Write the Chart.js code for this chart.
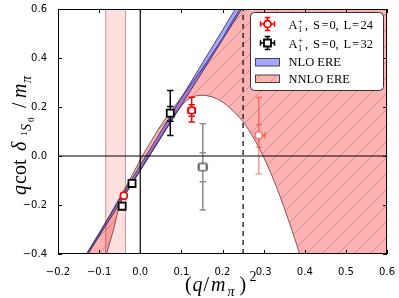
<!DOCTYPE html>
<html>
<head>
<meta charset="utf-8">
<script src="https://cdn.jsdelivr.net/npm/chart.js@4.4.0/dist/chart.umd.min.js"></script>
<style>
  html, body { margin: 0; padding: 0; background: #fff; }
</style>
</head>
<body>
<canvas id="myChart" width="399" height="298"></canvas>
<script>
// tick labels
const x_ticks = [-0.2, -0.1, 0.0, 0.1, 0.2, 0.3, 0.4, 0.5, 0.6];
const y_ticks = [-0.4, -0.2, 0.0, 0.2, 0.4, 0.6];

// NLO ERE band (two edges, straight in q^2)
const nlo_x  = [-0.2, 0.0, 0.3];
const nlo_hi = [-0.590, -0.038, 0.790];
const nlo_lo = [-0.595, -0.060, 0.742];

// NNLO ERE band (upper / lower edge)
const nnlo_x  = [-0.20, -0.14, -0.10, -0.082, -0.065, -0.05, -0.02, 0.00, 0.02, 0.05, 0.08, 0.10, 0.12, 0.135, 0.15, 0.18, 0.20, 0.22, 0.25, 0.28, 0.30, 0.32, 0.34, 0.36, 0.38, 0.40, 0.45, 0.60];
const nnlo_hi = [-0.60, -0.43, -0.32, -0.265, -0.215, -0.17, -0.08, -0.015, 0.042, 0.125, 0.195, 0.24, 0.285, 0.32, 0.355, 0.43, 0.48, 0.54, 0.62, 0.70, 0.75, 0.80, 0.85, 0.90, 0.95, 1.00, 1.13, 1.50];
const nnlo_lo = [-1.20, -0.80, -0.52, -0.40, -0.30, -0.20, -0.11, -0.057, -0.003, 0.078, 0.158, 0.205, 0.235, 0.245, 0.248, 0.238, 0.22, 0.193, 0.14, 0.06, -0.005, -0.08, -0.165, -0.26, -0.36, -0.47, -0.80, -2.00];

// light shaded window and dashed cut
const window_x = [-0.084, -0.036];
const cut_x = 0.25;

// A1+ , S=0, L=24  (red circles)
const l24_x   = [-0.040, 0.125];
const l24_y   = [-0.162, 0.186];
const l24_up  = [0.012, 0.054];   // total error
const l24_dn  = [0.012, 0.047];
const l24_sup = [0.006, 0.023];   // stat error
const l24_sdn = [0.006, 0.024];
const l24_xl  = [0.004, 0.009];
const l24_xr  = [0.004, 0.009];

// A1+ , S=0, L=32  (black squares)
const l32_x   = [-0.044, -0.020, 0.073];
const l32_y   = [-0.205, -0.112, 0.175];
const l32_up  = [0.010, 0.010, 0.092];
const l32_dn  = [0.010, 0.010, 0.091];
const l32_sup = [0.006, 0.006, 0.027];
const l32_sdn = [0.006, 0.006, 0.033];
const l32_xl  = [0.004, 0.004, 0.006];
const l32_xr  = [0.004, 0.004, 0.006];

// faded points (not used in fit)
const l24f_x   = [0.288];
const l24f_y   = [0.085];
const l24f_up  = [0.154];
const l24f_dn  = [0.157];
const l24f_sup = [0.043];
const l24f_sdn = [0.049];
const l24f_xl  = [0.008];
const l24f_xr  = [0.015];

const l32f_x   = [0.152];
const l32f_y   = [-0.045];
const l32f_up  = [0.177];
const l32f_dn  = [0.175];
const l32f_sup = [0.058];
const l32f_sdn = [0.060];
const l32f_xl  = [0.011];
const l32f_xr  = [0.011];

const SERIF = "'Liberation Serif', 'DejaVu Serif', serif";

function pts(xs, ys) {
  return xs.map((x, i) => ({ x: x, y: ys[i] }));
}

function fmt(v) {
  return (v < -1e-9 ? '\u2212' : '') + Math.abs(v).toFixed(1);
}

// pink fill with grey diagonal hatch
function hatch() {
  const c = document.createElement('canvas');
  c.width = 16; c.height = 16;
  const g = c.getContext('2d');
  g.fillStyle = 'rgba(255,0,0,0.3)';
  g.fillRect(0, 0, 16, 16);
  g.strokeStyle = 'rgba(120,120,120,0.6)';
  g.lineWidth = 0.8;
  g.beginPath();
  for (let k = -16; k <= 16; k += 16) {
    g.moveTo(k, 16);
    g.lineTo(k + 16, 0);
  }
  g.stroke();
  return g.createPattern(c, 'repeat');
}
const nnloFill = hatch();

function pointSet(xs, ys, err, style, color, radius) {
  return {
    data: pts(xs, ys), showLine: false, err: err,
    pointStyle: style, pointRadius: radius, pointHoverRadius: radius,
    pointBorderColor: color, pointBackgroundColor: '#fff', pointBorderWidth: 1.8,
    borderColor: color, backgroundColor: '#fff'
  };
}

function refLine(data, dash) {
  return {
    data: data, showLine: true, borderColor: '#000', borderWidth: 1.2,
    borderDash: dash || [], pointRadius: 0, fill: false
  };
}

// error bars with caps at total and stat ends
function drawErr(chart, ds) {
  const ctx = chart.ctx, xs = chart.scales.x, ys = chart.scales.y, e = ds.err;
  const cap = 3.2;
  ctx.save();
  ctx.strokeStyle = e.color;
  ctx.lineWidth = 1.5;
  for (let i = 0; i < e.x.length; i++) {
    const px = xs.getPixelForValue(e.x[i]);
    const py = ys.getPixelForValue(e.y[i]);
    const yt = ys.getPixelForValue(e.y[i] + e.up[i]);
    const yb = ys.getPixelForValue(e.y[i] - e.dn[i]);
    const st = ys.getPixelForValue(e.y[i] + e.sup[i]);
    const sb = ys.getPixelForValue(e.y[i] - e.sdn[i]);
    const xl = xs.getPixelForValue(e.x[i] - e.xl[i]);
    const xr = xs.getPixelForValue(e.x[i] + e.xr[i]);
    ctx.beginPath();
    ctx.moveTo(px, yt); ctx.lineTo(px, yb);
    [yt, yb, st, sb].forEach(function (yy) {
      ctx.moveTo(px - cap, yy); ctx.lineTo(px + cap, yy);
    });
    ctx.moveTo(xl, py); ctx.lineTo(xr, py);
    ctx.moveTo(xl, py - cap); ctx.lineTo(xl, py + cap);
    ctx.moveTo(xr, py - cap); ctx.lineTo(xr, py + cap);
    ctx.stroke();
  }
  ctx.restore();
}

function t(ctx, s, x, y, font) {
  ctx.font = font;
  ctx.fillText(s, x, y);
}

function legendMarker(ctx, x, y, style, color) {
  ctx.save();
  ctx.strokeStyle = color;
  ctx.lineWidth = 1.5;
  ctx.beginPath();
  ctx.moveTo(x, y - 6.5); ctx.lineTo(x, y + 6.5);
  ctx.moveTo(x - 2.8, y - 6.5); ctx.lineTo(x + 2.8, y - 6.5);
  ctx.moveTo(x - 2.8, y + 6.5); ctx.lineTo(x + 2.8, y + 6.5);
  ctx.moveTo(x - 7, y); ctx.lineTo(x + 7, y);
  ctx.moveTo(x - 7, y - 2.8); ctx.lineTo(x - 7, y + 2.8);
  ctx.moveTo(x + 7, y - 2.8); ctx.lineTo(x + 7, y + 2.8);
  ctx.stroke();
  ctx.fillStyle = '#fff';
  ctx.lineWidth = 1.8;
  ctx.beginPath();
  if (style === 'circle') ctx.arc(x, y, 3.5, 0, Math.PI * 2);
  else ctx.rect(x - 3.5, y - 3.5, 7, 7);
  ctx.fill();
  ctx.stroke();
  ctx.restore();
}

function labelA(ctx, x, y, rest) {
  t(ctx, 'A', x, y, '12.5px ' + SERIF);
  t(ctx, '1', x + 9.5, y + 3, '8.5px ' + SERIF);
  t(ctx, '+', x + 9.5, y - 4.5, '8.5px ' + SERIF);
  // ", S =0, L =24"
  t(ctx, ',', x + 16.5, y, '12.5px ' + SERIF);
  t(ctx, 'S', x + 24.5, y, '12.5px ' + SERIF);
  t(ctx, '=', x + 33, y, '12.5px ' + SERIF);
  t(ctx, '0', x + 41, y, '12.5px ' + SERIF);
  t(ctx, ',', x + 47, y, '12.5px ' + SERIF);
  t(ctx, 'L', x + 55, y, '12.5px ' + SERIF);
  t(ctx, '=', x + 63.5, y, '12.5px ' + SERIF);
  t(ctx, rest, x + 72, y, '12.5px ' + SERIF);
}

const extras = {
  id: 'extras',
  beforeDatasetsDraw(chart) {
    const ctx = chart.ctx, a = chart.chartArea, xs = chart.scales.x;
    const x0 = xs.getPixelForValue(window_x[0]);
    const x1 = xs.getPixelForValue(window_x[1]);
    ctx.save();
    ctx.fillStyle = 'rgba(255,0,0,0.12)';
    ctx.fillRect(x0, a.top, x1 - x0, a.bottom - a.top);
    ctx.strokeStyle = 'rgba(140,70,70,0.6)';
    ctx.lineWidth = 0.9;
    ctx.beginPath();
    ctx.moveTo(x0, a.top); ctx.lineTo(x0, a.bottom);
    ctx.moveTo(x1, a.top); ctx.lineTo(x1, a.bottom);
    ctx.stroke();
    ctx.restore();
  },
  beforeDatasetDraw(chart, args) {
    const ds = chart.data.datasets[args.index];
    if (ds.err) drawErr(chart, ds);
  },
  afterDatasetsDraw(chart) {
    const ctx = chart.ctx, a = chart.chartArea, xs = chart.scales.x, ys = chart.scales.y;
    ctx.save();
    ctx.strokeStyle = '#000';
    ctx.lineWidth = 1;
    ctx.strokeRect(a.left + 0.5, a.top + 0.5, a.right - a.left - 1, a.bottom - a.top - 1);
    ctx.beginPath();
    x_ticks.forEach(function (v) {
      const px = Math.round(xs.getPixelForValue(v)) + 0.5;
      ctx.moveTo(px, a.bottom); ctx.lineTo(px, a.bottom - 4);
      ctx.moveTo(px, a.top); ctx.lineTo(px, a.top + 4);
    });
    y_ticks.forEach(function (v) {
      const py = Math.round(ys.getPixelForValue(v)) + 0.5;
      ctx.moveTo(a.left, py); ctx.lineTo(a.left + 4, py);
      ctx.moveTo(a.right, py); ctx.lineTo(a.right - 4, py);
    });
    ctx.stroke();
    ctx.restore();
  },
  afterDraw(chart) {
    const ctx = chart.ctx;
    ctx.save();
    // legend box
    ctx.fillStyle = '#fff';
    ctx.strokeStyle = '#333';
    ctx.lineWidth = 1;
    ctx.beginPath();
    if (ctx.roundRect) ctx.roundRect(250.5, 12.5, 133, 78, 4);
    else ctx.rect(250.5, 12.5, 133, 78);
    ctx.fill();
    ctx.stroke();

    legendMarker(ctx, 267.5, 24, 'circle', '#f00');
    legendMarker(ctx, 267.5, 43, 'rect', '#000');

    ctx.fillStyle = 'rgba(0,0,255,0.35)';
    ctx.fillRect(255, 58.5, 24, 7.5);
    ctx.fillStyle = nnloFill;
    ctx.fillRect(255, 75, 24, 7.5);
    ctx.strokeStyle = '#444';
    ctx.strokeRect(255.5, 58.5, 24, 7.5);
    ctx.strokeRect(255.5, 75, 24, 7.5);

    ctx.fillStyle = '#000';
    ctx.textAlign = 'left';
    ctx.textBaseline = 'alphabetic';
    labelA(ctx, 288.5, 28.5, '24');
    labelA(ctx, 288.5, 47.5, '32');
    t(ctx, 'NLO ERE', 288.5, 66, '12.5px ' + SERIF);
    t(ctx, 'NNLO ERE', 288.5, 83, '12.5px ' + SERIF);

    // x axis title (q/m_pi)^2
    t(ctx, '(', 185, 291, '20px ' + SERIF);
    t(ctx, 'q', 192.5, 291, 'italic 20px ' + SERIF);
    t(ctx, '/', 203.5, 291, '20px ' + SERIF);
    t(ctx, 'm', 211, 291, 'italic 20px ' + SERIF);
    t(ctx, '\u03c0', 227.5, 296, 'italic 14px ' + SERIF);
    t(ctx, ')', 239.5, 291, '20px ' + SERIF);
    t(ctx, '2', 249.5, 281, '14px ' + SERIF);

    // y axis title q cot delta_{1S0} / m_pi
    ctx.translate(26, 195);
    ctx.rotate(-Math.PI / 2);
    t(ctx, 'q', 0, 0, 'italic 20px ' + SERIF);
    t(ctx, 'cot', 11, 0, '20px ' + SERIF);
    t(ctx, '\u03b4', 44, 0, 'italic 20px ' + SERIF);
    t(ctx, '1', 59, 1, '9px ' + SERIF);
    t(ctx, 'S', 64, 5, 'italic 14px ' + SERIF);
    t(ctx, '0', 73, 8, '9px ' + SERIF);
    t(ctx, '/', 87, 0, '20px ' + SERIF);
    t(ctx, 'm', 97, 0, 'italic 20px ' + SERIF);
    t(ctx, '\u03c0', 112, 5, 'italic 14px ' + SERIF);
    ctx.restore();
  }
};

const ctx = document.getElementById('myChart').getContext('2d');
const myChart = new Chart(ctx, {
  type: 'line',
  data: {
    datasets: [
      pointSet(l24_x, l24_y, { x: l24_x, y: l24_y, up: l24_up, dn: l24_dn, sup: l24_sup, sdn: l24_sdn, xl: l24_xl, xr: l24_xr, color: '#f00' }, 'circle', '#f00', 3.5),
      pointSet(l32_x, l32_y, { x: l32_x, y: l32_y, up: l32_up, dn: l32_dn, sup: l32_sup, sdn: l32_sdn, xl: l32_xl, xr: l32_xr, color: '#000' }, 'rect', '#000', 5),
      pointSet(l24f_x, l24f_y, { x: l24f_x, y: l24f_y, up: l24f_up, dn: l24f_dn, sup: l24f_sup, sdn: l24f_sdn, xl: l24f_xl, xr: l24f_xr, color: 'rgba(255,0,0,0.4)' }, 'circle', 'rgba(255,0,0,0.4)', 3.5),
      pointSet(l32f_x, l32f_y, { x: l32f_x, y: l32f_y, up: l32f_up, dn: l32f_dn, sup: l32f_sup, sdn: l32f_sdn, xl: l32f_xl, xr: l32f_xr, color: 'rgba(0,0,0,0.45)' }, 'rect', 'rgba(0,0,0,0.45)', 5),
      refLine([{ x: -0.2, y: 0 }, { x: 0.6, y: 0 }]),
      refLine([{ x: 0, y: -0.4 }, { x: 0, y: 0.6 }]),
      refLine([{ x: cut_x, y: -0.4 }, { x: cut_x, y: 0.6 }], [5, 4]),
      {
        data: pts(nlo_x, nlo_hi), showLine: true, pointRadius: 0,
        borderColor: 'rgba(50,50,60,0.85)', borderWidth: 1,
        fill: '+1', backgroundColor: 'rgba(0,0,255,0.35)'
      },
      {
        data: pts(nlo_x, nlo_lo), showLine: true, pointRadius: 0,
        borderColor: 'rgba(50,50,60,0.85)', borderWidth: 1, fill: false
      },
      {
        data: pts(nnlo_x, nnlo_hi), showLine: true, pointRadius: 0,
        cubicInterpolationMode: 'monotone',
        borderColor: 'rgba(70,60,60,0.8)', borderWidth: 1,
        fill: '+1', backgroundColor: nnloFill
      },
      {
        data: pts(nnlo_x, nnlo_lo), showLine: true, pointRadius: 0,
        cubicInterpolationMode: 'monotone',
        borderColor: 'rgba(70,60,60,0.8)', borderWidth: 1, fill: false
      }
    ]
  },
  options: {
    responsive: false,
    animation: false,
    devicePixelRatio: 1,
    layout: { padding: { left: 0, right: 11, top: 7, bottom: 0 } },
    plugins: { legend: { display: false }, tooltip: { enabled: false } },
    scales: {
      x: {
        type: 'linear', min: -0.2, max: 0.6,
        afterBuildTicks: function (s) { s.ticks = x_ticks.map(function (v) { return { value: v }; }); },
        afterFit: function (s) { s.height = 44; },
        grid: { display: false }, border: { display: false },
        ticks: {
          font: { family: 'DejaVu Sans', size: 10 }, color: '#000',
          padding: 4, maxRotation: 0, autoSkip: false,
          callback: function (v) { return fmt(v); }
        }
      },
      y: {
        type: 'linear', min: -0.4, max: 0.6,
        afterBuildTicks: function (s) { s.ticks = y_ticks.map(function (v) { return { value: v }; }); },
        afterFit: function (s) { s.width = 58; },
        grid: { display: false }, border: { display: false },
        ticks: {
          font: { family: 'DejaVu Sans', size: 10 }, color: '#000',
          padding: 3, autoSkip: false,
          callback: function (v) { return fmt(v); }
        }
      }
    }
  },
  plugins: [extras]
});
</script>
</body>
</html>
